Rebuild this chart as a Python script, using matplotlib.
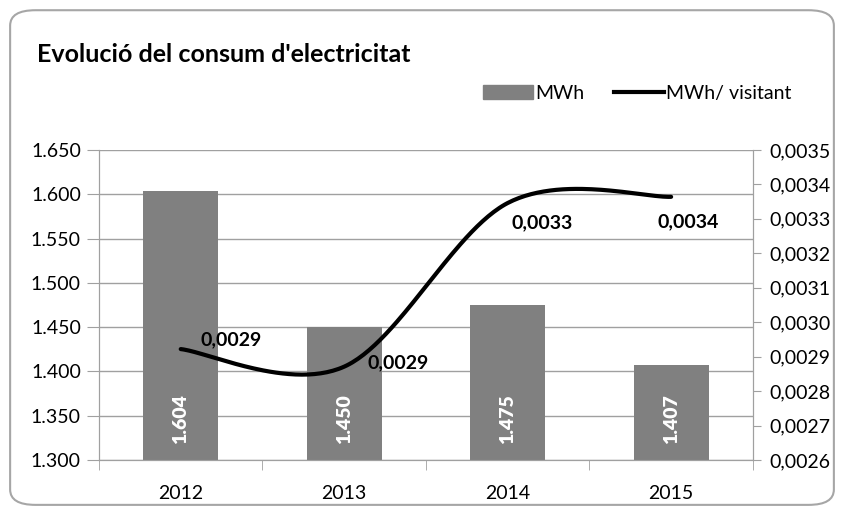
import numpy as np
import matplotlib.pyplot as plt
from matplotlib.patches import FancyBboxPatch, Patch
from matplotlib.lines import Line2D
from matplotlib.ticker import FuncFormatter, FixedLocator

plt.rcParams['font.family'] = ['Lato', 'DejaVu Sans']

years = ['2012', '2013', '2014', '2015']
mwh = [1604, 1450, 1475, 1407]
mwh_visitant = [0.002922, 0.002871, 0.003346, 0.003364]
mwh_labels = ['1.604', '1.450', '1.475', '1.407']
ratio_labels = ['0,0029', '0,0029', '0,0033', '0,0034']
# label offsets in points (dx, dy) relative to each line point
label_offsets = [(36, 7), (39, 3), (25, -14), (12, -18)]

GRID = '#a0a0a0'
BAR = '#808080'


def smooth(xs, ys, n=60):
    # Excel-like smoothed line: cubic bezier with catmull-rom control points
    p = np.column_stack([xs, ys]).astype(float)
    ext = np.vstack([p[0], p, p[-1]])
    out = []
    t = np.linspace(0, 1, n)[:, None]
    for i in range(len(p) - 1):
        p0, p1 = ext[i + 1], ext[i + 2]
        c1 = p0 + (ext[i + 2] - ext[i]) / 6
        c2 = p1 - (ext[i + 3] - ext[i + 1]) / 6
        seg = ((1 - t) ** 3) * p0 + 3 * ((1 - t) ** 2) * t * c1 + 3 * (1 - t) * t ** 2 * c2 + t ** 3 * p1
        out.append(seg)
    out = np.vstack(out)
    return out[:, 0], out[:, 1]


fig = plt.figure(figsize=(8.44, 5.11), dpi=100)
fig.patches.append(FancyBboxPatch((0.012, 0.012), 0.976, 0.968, boxstyle='round,pad=0,rounding_size=0.03',
                                  transform=fig.transFigure, fill=False, edgecolor='#a6a6a6', linewidth=1.5))

ax = fig.add_axes([0.1173, 0.0998, 0.7747, 0.6067])
x = np.arange(len(years))
bars = ax.bar(x, mwh, width=0.46, color=BAR, zorder=2)
ax.set_ylim(1300, 1650)
ax.set_xlim(-0.5, len(years) - 0.5)
ax.yaxis.set_major_locator(FixedLocator(np.arange(1300, 1651, 50)))
ax.yaxis.set_major_formatter(FuncFormatter(lambda v, p: f'{v/1000:.3f}'))
ax.grid(axis='y', color=GRID, linewidth=1, zorder=0)
ax.set_xticks(x)
ax.set_xticklabels(years, fontsize=14)
ax.set_xticks(np.arange(-0.5, len(years), 1), minor=True)
ax.tick_params(axis='x', which='major', length=0, pad=18)
ax.tick_params(axis='x', which='minor', length=7, color=GRID, direction='out')
ax.tick_params(axis='y', length=9, color=GRID, labelsize=14, pad=4)
for s in ['left', 'bottom', 'right']:
    ax.spines[s].set_color(GRID)
ax.spines['top'].set_visible(False)

for b, lab in zip(bars, mwh_labels):
    ax.text(b.get_x() + b.get_width() / 2, 1318, lab, rotation=90, ha='center', va='bottom',
            color='white', fontsize=14, fontweight='heavy', zorder=3)

ax2 = ax.twinx()
ax2.set_ylim(0.0026, 0.0035)
ax2.yaxis.set_major_locator(FixedLocator(np.linspace(0.0026, 0.0035, 10)))
ax2.yaxis.set_major_formatter(FuncFormatter(lambda v, p: f'{v:.4f}'.replace('.', ',')))
ax2.tick_params(axis='y', length=6, color=GRID, labelsize=14, pad=6)
for s in ['left', 'bottom', 'right']:
    ax2.spines[s].set_color(GRID)
ax2.spines['top'].set_visible(False)

sx, sy = smooth(x, mwh_visitant)
ax2.plot(sx, sy, color='black', linewidth=3, solid_capstyle='round', zorder=4)
for xi, yi, lab, off in zip(x, mwh_visitant, ratio_labels, label_offsets):
    ax2.annotate(lab, (xi, yi), xytext=off, textcoords='offset points', ha='center', va='center',
                 fontsize=14, fontweight='bold', color='black')

fig.text(0.044, 0.893, "Evolució del consum d'electricitat", fontsize=18, fontweight='bold', va='center')

handles = [Patch(color=BAR), Line2D([0], [0], color='black', linewidth=3)]
fig.legend(handles, ['MWh', 'MWh/ visitant'], loc='center', bbox_to_anchor=(0.755, 0.818), ncol=2,
           frameon=False, fontsize=14, handlelength=2.6, handletextpad=0.1, columnspacing=1.5)

plt.savefig('out.png', dpi=100)
